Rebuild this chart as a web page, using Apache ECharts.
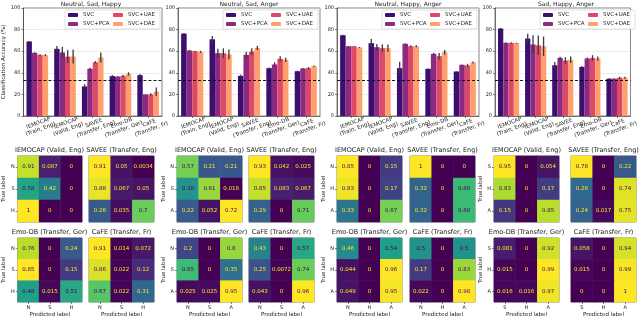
<!DOCTYPE html>
<html><head><meta charset="utf-8">
<script src="https://cdn.jsdelivr.net/npm/echarts@6/dist/echarts.min.js"></script>
<style>html,body{margin:0;padding:0;background:#fff}#c{width:640px;height:319px}</style>
</head><body><div id="c"></div>
<script>
// ---------- DATA ----------
const categories = ['IEMOCAP\n(Train, Eng)', 'IEMOCAP\n(Valid, Eng)', 'SAVEE\n(Transfer, Eng)', 'Emo-DB\n(Transfer, Ger)', 'CaFE\n(Transfer, Fr)'];
const methods = ['SVC', 'SVC+PCA', 'SVC+UAE', 'SVC+DAE'];
const panelTitles = ['Neutral, Sad, Happy', 'Neutral, Sad, Anger', 'Neutral, Happy, Anger', 'Sad, Happy, Anger'];
const yTicks = [0, 20, 40, 60, 80, 100];
const chanceLevel = 33.33;

// accuracy (%) per panel, per method, per category
const acc1 = [[69.0, 62.2, 27.4, 36.9, 37.8], [58.5, 58.8, 43.7, 36.6, 20.0], [56.6, 55.0, 49.8, 37.2, 20.0], [56.3, 55.0, 54.2, 39.0, 22.5]];
const acc2 = [[76.3, 71.0, 37.2, 44.3, 41.5], [60.6, 58.2, 56.6, 47.7, 44.0], [60.0, 58.2, 59.7, 52.9, 44.3], [59.4, 57.0, 63.0, 52.0, 46.2]];
const acc3 = [[74.8, 67.4, 44.3, 43.7, 41.2], [64.6, 63.7, 66.8, 57.5, 47.4], [64.6, 62.8, 64.6, 55.4, 46.8], [63.4, 62.8, 64.6, 59.0, 49.5]];
const acc4 = [[81.0, 71.7, 47.0, 45.5, 34.5], [67.7, 66.2, 53.8, 53.2, 34.5], [67.7, 65.5, 51.4, 53.8, 35.4], [67.4, 64.6, 52.0, 53.2, 35.4]];
// error bar half-lengths
const err1 = [[0.5, 2.6, 2, 1, 1], [0.5, 5, 1, 0.3, 0.3], [0.5, 6, 1, 1, 1], [1, 6.5, 4.6, 1.5, 4]];
const err2 = [[0.5, 3, 1, 0.5, 0.5], [0.5, 4, 3, 2, 0.5], [0.5, 4.5, 3, 2.5, 1], [1, 4.5, 2, 2, 0.5]];
const err3 = [[0.5, 4, 6, 0.3, 0.3], [0.3, 3, 0.5, 1, 0.3], [0.3, 3.5, 1, 3, 1.5], [0.5, 3.5, 1, 2, 1]];
const err4 = [[0.5, 4.5, 3, 0.5, 0.5], [0.5, 8.5, 1, 1, 0.5], [0.5, 9, 3, 2.5, 1], [0.5, 9, 3, 2, 1]];

// confusion matrices (rows: true, cols: predicted)
const emotions1 = ['N', 'S', 'H'];
const emotions2 = ['N', 'S', 'A'];
const emotions3 = ['N', 'H', 'A'];
const emotions4 = ['S', 'H', 'A'];
const cmTitles = ['IEMOCAP (Valid, Eng)', 'SAVEE (Transfer, Eng)', 'Emo-DB (Transfer, Ger)', 'CaFE (Transfer, Fr)'];
const cm1 = [
  [[0.91, 0.087, 0], [0.58, 0.42, 0], [1, 0, 0]],
  [[0.91, 0.05, 0.0034], [0.88, 0.067, 0.05], [0.26, 0.035, 0.7]],
  [[0.76, 0, 0.24], [0.85, 0, 0.15], [0.48, 0.015, 0.51]],
  [[0.91, 0.014, 0.072], [0.86, 0.022, 0.12], [0.67, 0.022, 0.31]]
];
const cm2 = [
  [[0.57, 0.21, 0.21], [0.38, 0.61, 0.018], [0.22, 0.052, 0.72]],
  [[0.93, 0.042, 0.025], [0.85, 0.083, 0.067], [0.29, 0, 0.71]],
  [[0.2, 0, 0.8], [0.65, 0, 0.35], [0.025, 0.025, 0.95]],
  [[0.43, 0, 0.57], [0.25, 0.0072, 0.74], [0.043, 0, 0.96]]
];
const cm3 = [
  [[0.85, 0, 0.15], [0.83, 0, 0.17], [0.33, 0, 0.67]],
  [[1, 0, 0], [0.32, 0, 0.68], [0.32, 0, 0.68]],
  [[0.46, 0, 0.54], [0.044, 0, 0.96], [0.049, 0, 0.95]],
  [[0.5, 0, 0.5], [0.17, 0, 0.83], [0.022, 0, 0.98]]
];
const cm4 = [
  [[0.95, 0, 0.054], [0.83, 0, 0.17], [0.15, 0, 0.85]],
  [[0.78, 0, 0.22], [0.26, 0, 0.74], [0.24, 0.017, 0.75]],
  [[0.081, 0, 0.92], [0.015, 0, 0.99], [0.016, 0.016, 0.97]],
  [[0.058, 0, 0.94], [0.015, 0, 0.99], [0, 0, 1]]
];

// ---------- STYLE / LAYOUT ----------
const accs = [acc1, acc2, acc3, acc4];
const errs = [err1, err2, err3, err4];
const cms = [cm1, cm2, cm3, cm4];
const emos = [emotions1, emotions2, emotions3, emotions4];
const colors = ['#3b0f6f', '#8c2981', '#de4968', '#fe9f6d'];
const viridis = ['#440154', '#482878', '#3e4989', '#31688e', '#26828e', '#1f9e89', '#35b779', '#6ece58', '#b5de2b', '#fde725'];
const FONT = 'DejaVu Sans';
const barLeft = [20, 178, 337, 495];
const barW = 142, barTop = 8, barH = 108;
const cmLeft = [[17, 89], [177, 249], [337, 410], [494, 571]];
const cmW = 65, cmTop = [156, 238], cmH = 66;
const catGap = 0.22;

const grids = [], xAxes = [], yAxes = [], series = [], titles = [], legends = [], visualMaps = [], graphics = [];

function fmt(v) { return String(parseFloat(Number(v).toPrecision(2))); }

for (let p = 0; p < 4; p++) {
  grids.push({ left: barLeft[p], top: barTop, width: barW, height: barH, show: true, borderColor: '#333', borderWidth: 0.6, backgroundColor: 'transparent' });
  xAxes.push({
    type: 'category', gridIndex: p, data: categories,
    axisLine: { lineStyle: { color: '#333', width: 0.6 } },
    axisTick: { show: true, alignWithLabel: true, length: 2, lineStyle: { color: '#333', width: 0.6 } },
    axisLabel: { fontFamily: FONT, fontSize: 5.5, color: '#222', rotate: 20, align: 'center', verticalAlign: 'top', interval: 0, margin: 4, lineHeight: 6.5 }
  });
  yAxes.push({
    type: 'value', gridIndex: p, min: 0, max: 100, interval: 20,
    name: p === 0 ? 'Classification Accuracy (%)' : '', nameLocation: 'middle', nameGap: 12, nameRotate: 90,
    nameTextStyle: { fontFamily: FONT, fontSize: 5.5, color: '#222' },
    axisLine: { show: true, lineStyle: { color: '#333', width: 0.6 } },
    axisTick: { show: true, length: 2, lineStyle: { color: '#333', width: 0.6 } },
    axisLabel: { fontFamily: FONT, fontSize: 5, color: '#222', margin: 3 },
    splitLine: { show: true, lineStyle: { color: '#cfcfcf', type: 'dashed', width: 0.6 } }
  });
  titles.push({ text: panelTitles[p], left: barLeft[p] + barW / 2, top: 1, padding: 0, textAlign: 'center', textStyle: { fontFamily: FONT, fontSize: 6, fontWeight: 'normal', color: '#222' } });
  for (let m = 0; m < 4; m++) {
    const s = {
      type: 'bar', name: methods[m], xAxisIndex: p, yAxisIndex: p, data: accs[p][m],
      barCategoryGap: (catGap * 100) + '%', barGap: '0%', itemStyle: { color: colors[m] }
    };
    if (m === 0) {
      s.markLine = { silent: true, symbol: 'none', label: { show: false }, lineStyle: { color: '#000', type: [3, 2], width: 0.9 }, data: [{ yAxis: chanceLevel }] };
    }
    series.push(s);
  }
  const edata = [];
  for (let m = 0; m < 4; m++) for (let c = 0; c < categories.length; c++) edata.push([c, accs[p][m][c], errs[p][m][c], m]);
  series.push({
    type: 'custom', xAxisIndex: p, yAxisIndex: p, data: edata, z: 5,
    renderItem: function (params, api) {
      const c = api.value(0), v = api.value(1), e = api.value(2), m = api.value(3);
      const band = api.size([1, 0])[0];
      const bw = band * (1 - catGap) / 4;
      const cx = api.coord([c, v])[0] - band * (1 - catGap) / 2 + bw * (m + 0.5);
      const y1 = api.coord([c, v - e])[1], y2 = api.coord([c, v + e])[1];
      return { type: 'line', shape: { x1: cx, y1: y1, x2: cx, y2: y2 }, style: { stroke: '#3a3a3a', lineWidth: 1.3 } };
    }
  });
  // legend box and two legend columns
  graphics.push({ type: 'rect', shape: { x: barLeft[p] + 45, y: barTop + 2, width: barW - 47, height: 19, r: 1 }, style: { fill: 'rgba(255,255,255,0.85)', stroke: '#ccc', lineWidth: 0.6 }, z: 10 });
  legends.push({ data: [methods[0], methods[1]], orient: 'vertical', left: barLeft[p] + 48, top: barTop + 4, itemWidth: 10, itemHeight: 4, itemGap: 3, padding: 0, textStyle: { fontFamily: FONT, fontSize: 5.5, color: '#222' }, z: 11 });
  legends.push({ data: [methods[2], methods[3]], orient: 'vertical', left: barLeft[p] + 93, top: barTop + 4, itemWidth: 10, itemHeight: 4, itemGap: 3, padding: 0, textStyle: { fontFamily: FONT, fontSize: 5.5, color: '#222' }, z: 11 });
}

let gi = 4;
for (let g = 0; g < 4; g++) {
  for (let r = 0; r < 2; r++) {
    for (let c = 0; c < 2; c++) {
      const k = r * 2 + c;
      const mat = cms[g][k];
      const flat = mat.flat();
      const mn = Math.min(...flat), mx = Math.max(...flat);
      const thr = (mn + mx) / 2;
      grids.push({ left: cmLeft[g][c], top: cmTop[r], width: cmW, height: cmH, show: true, borderColor: '#222', borderWidth: 0.6, backgroundColor: 'transparent' });
      xAxes.push({
        type: 'category', gridIndex: gi, data: emos[g], position: 'bottom',
        name: r === 1 ? 'Predicted label' : '', nameLocation: 'middle', nameGap: 10,
        nameTextStyle: { fontFamily: FONT, fontSize: 5.5, color: '#222' },
        axisLine: { show: false }, splitLine: { show: false },
        axisTick: { show: r === 1, alignWithLabel: true, length: 2, lineStyle: { color: '#333', width: 0.6 } },
        axisLabel: { show: r === 1, fontFamily: FONT, fontSize: 5, color: '#222', margin: 3 }
      });
      yAxes.push({
        type: 'category', gridIndex: gi, data: emos[g], inverse: true,
        name: c === 0 ? 'True label' : '', nameLocation: 'middle', nameGap: 9, nameRotate: 90,
        nameTextStyle: { fontFamily: FONT, fontSize: 5.5, color: '#222' },
        axisLine: { show: false }, splitLine: { show: false },
        axisTick: { show: c === 0, alignWithLabel: true, length: 2, lineStyle: { color: '#333', width: 0.6 } },
        axisLabel: { show: c === 0, fontFamily: FONT, fontSize: 5, color: '#222', margin: 3 }
      });
      const data = [];
      for (let i = 0; i < 3; i++) for (let j = 0; j < 3; j++) {
        const v = mat[i][j];
        data.push({ value: [j, i, v], label: { color: v > thr ? viridis[0] : viridis[9] } });
      }
      visualMaps.push({ type: 'continuous', show: false, min: mn, max: mx, seriesIndex: series.length, dimension: 2, inRange: { color: viridis } });
      series.push({
        type: 'heatmap', xAxisIndex: gi, yAxisIndex: gi, data: data,
        label: { show: true, fontFamily: FONT, fontSize: 5.5, formatter: function (p) { return fmt(p.value[2]); } },
        itemStyle: { borderWidth: 0 }
      });
      titles.push({ text: cmTitles[k], left: cmLeft[g][c] + cmW / 2, top: cmTop[r] - 9, padding: 0, textAlign: 'center', textStyle: { fontFamily: FONT, fontSize: 6.5, fontWeight: 'normal', color: '#222' } });
      gi++;
    }
  }
}

const chart = echarts.init(document.getElementById('c'), null, { renderer: 'canvas' });
chart.setOption({
  animation: false,
  backgroundColor: '#fff',
  title: titles, grid: grids, xAxis: xAxes, yAxis: yAxes,
  legend: legends, visualMap: visualMaps, series: series, graphic: graphics
});
</script></body></html>
